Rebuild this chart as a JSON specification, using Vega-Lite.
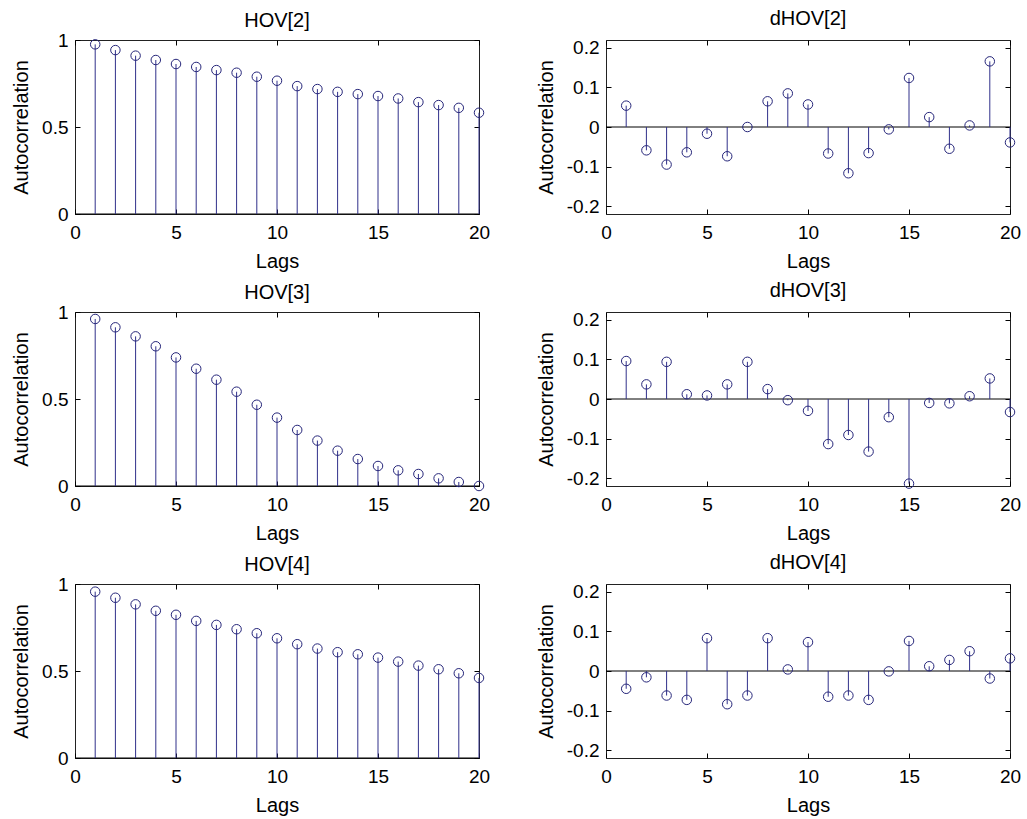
{
  "$schema": "https://vega.github.io/schema/vega-lite/v6.json",
  "background": "white",
  "padding": {"left": 11, "top": 8, "right": 10, "bottom": 4},
  "config": {
    "font": "Liberation Sans",
    "view": {"stroke": "#222", "strokeWidth": 1},
    "axis": {"labelFont": "Liberation Sans", "titleFont": "Liberation Sans", "labelFontSize": 19, "titleFontSize": 20, "titleFontWeight": "normal", "labelColor": "#000", "titleColor": "#000", "tickColor": "#000", "grid": false, "labelFlush": false, "domain": false, "tickSize": -5},
    "title": {"font": "Liberation Sans", "fontSize": 20, "fontWeight": "normal", "color": "#000", "offset": 10, "frame": "group"}
  },
  "datasets": {
    "acf": [
      {"panel": "HOV[2]", "lag": 1, "r": 0.975}, {"panel": "HOV[2]", "lag": 2, "r": 0.942}, {"panel": "HOV[2]", "lag": 3, "r": 0.910}, {"panel": "HOV[2]", "lag": 4, "r": 0.885}, {"panel": "HOV[2]", "lag": 5, "r": 0.862},
      {"panel": "HOV[2]", "lag": 6, "r": 0.845}, {"panel": "HOV[2]", "lag": 7, "r": 0.827}, {"panel": "HOV[2]", "lag": 8, "r": 0.812}, {"panel": "HOV[2]", "lag": 9, "r": 0.789}, {"panel": "HOV[2]", "lag": 10, "r": 0.766},
      {"panel": "HOV[2]", "lag": 11, "r": 0.735}, {"panel": "HOV[2]", "lag": 12, "r": 0.718}, {"panel": "HOV[2]", "lag": 13, "r": 0.702}, {"panel": "HOV[2]", "lag": 14, "r": 0.689}, {"panel": "HOV[2]", "lag": 15, "r": 0.678},
      {"panel": "HOV[2]", "lag": 16, "r": 0.664}, {"panel": "HOV[2]", "lag": 17, "r": 0.643}, {"panel": "HOV[2]", "lag": 18, "r": 0.626}, {"panel": "HOV[2]", "lag": 19, "r": 0.610}, {"panel": "HOV[2]", "lag": 20, "r": 0.582},
      {"panel": "dHOV[2]", "lag": 1, "r": 0.054}, {"panel": "dHOV[2]", "lag": 2, "r": -0.059}, {"panel": "dHOV[2]", "lag": 3, "r": -0.095}, {"panel": "dHOV[2]", "lag": 4, "r": -0.064}, {"panel": "dHOV[2]", "lag": 5, "r": -0.017},
      {"panel": "dHOV[2]", "lag": 6, "r": -0.074}, {"panel": "dHOV[2]", "lag": 7, "r": 0.000}, {"panel": "dHOV[2]", "lag": 8, "r": 0.065}, {"panel": "dHOV[2]", "lag": 9, "r": 0.085}, {"panel": "dHOV[2]", "lag": 10, "r": 0.057},
      {"panel": "dHOV[2]", "lag": 11, "r": -0.067}, {"panel": "dHOV[2]", "lag": 12, "r": -0.117}, {"panel": "dHOV[2]", "lag": 13, "r": -0.066}, {"panel": "dHOV[2]", "lag": 14, "r": -0.006}, {"panel": "dHOV[2]", "lag": 15, "r": 0.124},
      {"panel": "dHOV[2]", "lag": 16, "r": 0.025}, {"panel": "dHOV[2]", "lag": 17, "r": -0.055}, {"panel": "dHOV[2]", "lag": 18, "r": 0.004}, {"panel": "dHOV[2]", "lag": 19, "r": 0.166}, {"panel": "dHOV[2]", "lag": 20, "r": -0.039},
      {"panel": "HOV[3]", "lag": 1, "r": 0.960}, {"panel": "HOV[3]", "lag": 2, "r": 0.912}, {"panel": "HOV[3]", "lag": 3, "r": 0.860}, {"panel": "HOV[3]", "lag": 4, "r": 0.803}, {"panel": "HOV[3]", "lag": 5, "r": 0.739},
      {"panel": "HOV[3]", "lag": 6, "r": 0.674}, {"panel": "HOV[3]", "lag": 7, "r": 0.611}, {"panel": "HOV[3]", "lag": 8, "r": 0.542}, {"panel": "HOV[3]", "lag": 9, "r": 0.467}, {"panel": "HOV[3]", "lag": 10, "r": 0.393},
      {"panel": "HOV[3]", "lag": 11, "r": 0.322}, {"panel": "HOV[3]", "lag": 12, "r": 0.261}, {"panel": "HOV[3]", "lag": 13, "r": 0.203}, {"panel": "HOV[3]", "lag": 14, "r": 0.155}, {"panel": "HOV[3]", "lag": 15, "r": 0.115},
      {"panel": "HOV[3]", "lag": 16, "r": 0.090}, {"panel": "HOV[3]", "lag": 17, "r": 0.069}, {"panel": "HOV[3]", "lag": 18, "r": 0.044}, {"panel": "HOV[3]", "lag": 19, "r": 0.023}, {"panel": "HOV[3]", "lag": 20, "r": 0.000},
      {"panel": "dHOV[3]", "lag": 1, "r": 0.096}, {"panel": "dHOV[3]", "lag": 2, "r": 0.037}, {"panel": "dHOV[3]", "lag": 3, "r": 0.094}, {"panel": "dHOV[3]", "lag": 4, "r": 0.012}, {"panel": "dHOV[3]", "lag": 5, "r": 0.009},
      {"panel": "dHOV[3]", "lag": 6, "r": 0.037}, {"panel": "dHOV[3]", "lag": 7, "r": 0.094}, {"panel": "dHOV[3]", "lag": 8, "r": 0.025}, {"panel": "dHOV[3]", "lag": 9, "r": -0.003}, {"panel": "dHOV[3]", "lag": 10, "r": -0.030},
      {"panel": "dHOV[3]", "lag": 11, "r": -0.114}, {"panel": "dHOV[3]", "lag": 12, "r": -0.091}, {"panel": "dHOV[3]", "lag": 13, "r": -0.133}, {"panel": "dHOV[3]", "lag": 14, "r": -0.046}, {"panel": "dHOV[3]", "lag": 15, "r": -0.214},
      {"panel": "dHOV[3]", "lag": 16, "r": -0.010}, {"panel": "dHOV[3]", "lag": 17, "r": -0.011}, {"panel": "dHOV[3]", "lag": 18, "r": 0.007}, {"panel": "dHOV[3]", "lag": 19, "r": 0.052}, {"panel": "dHOV[3]", "lag": 20, "r": -0.033},
      {"panel": "HOV[4]", "lag": 1, "r": 0.956}, {"panel": "HOV[4]", "lag": 2, "r": 0.921}, {"panel": "HOV[4]", "lag": 3, "r": 0.883}, {"panel": "HOV[4]", "lag": 4, "r": 0.846}, {"panel": "HOV[4]", "lag": 5, "r": 0.823},
      {"panel": "HOV[4]", "lag": 6, "r": 0.788}, {"panel": "HOV[4]", "lag": 7, "r": 0.765}, {"panel": "HOV[4]", "lag": 8, "r": 0.740}, {"panel": "HOV[4]", "lag": 9, "r": 0.717}, {"panel": "HOV[4]", "lag": 10, "r": 0.688},
      {"panel": "HOV[4]", "lag": 11, "r": 0.654}, {"panel": "HOV[4]", "lag": 12, "r": 0.629}, {"panel": "HOV[4]", "lag": 13, "r": 0.608}, {"panel": "HOV[4]", "lag": 14, "r": 0.596}, {"panel": "HOV[4]", "lag": 15, "r": 0.577},
      {"panel": "HOV[4]", "lag": 16, "r": 0.554}, {"panel": "HOV[4]", "lag": 17, "r": 0.531}, {"panel": "HOV[4]", "lag": 18, "r": 0.510}, {"panel": "HOV[4]", "lag": 19, "r": 0.487}, {"panel": "HOV[4]", "lag": 20, "r": 0.460},
      {"panel": "dHOV[4]", "lag": 1, "r": -0.045}, {"panel": "dHOV[4]", "lag": 2, "r": -0.016}, {"panel": "dHOV[4]", "lag": 3, "r": -0.062}, {"panel": "dHOV[4]", "lag": 4, "r": -0.073}, {"panel": "dHOV[4]", "lag": 5, "r": 0.083},
      {"panel": "dHOV[4]", "lag": 6, "r": -0.084}, {"panel": "dHOV[4]", "lag": 7, "r": -0.062}, {"panel": "dHOV[4]", "lag": 8, "r": 0.083}, {"panel": "dHOV[4]", "lag": 9, "r": 0.004}, {"panel": "dHOV[4]", "lag": 10, "r": 0.073},
      {"panel": "dHOV[4]", "lag": 11, "r": -0.065}, {"panel": "dHOV[4]", "lag": 12, "r": -0.062}, {"panel": "dHOV[4]", "lag": 13, "r": -0.073}, {"panel": "dHOV[4]", "lag": 14, "r": -0.001}, {"panel": "dHOV[4]", "lag": 15, "r": 0.076},
      {"panel": "dHOV[4]", "lag": 16, "r": 0.012}, {"panel": "dHOV[4]", "lag": 17, "r": 0.028}, {"panel": "dHOV[4]", "lag": 18, "r": 0.050}, {"panel": "dHOV[4]", "lag": 19, "r": -0.019}, {"panel": "dHOV[4]", "lag": 20, "r": 0.032}
    ]
  },
  "columns": 2,
  "spacing": {"row": 98, "column": 127},
  "bounds": "flush",
  "concat": [
    {
      "width": 404, "height": 174, "title": {"text": "HOV[2]", "offset": 0},
      "resolve": {"axis": {"x": "independent", "y": "independent"}},
      "layer": [
        {"data": {"values": [{}]}, "mark": {"type": "rule", "color": "#000", "strokeWidth": 1}, "encoding": {"y": {"datum": 0, "type": "quantitative", "scale": {"domain": [0, 1], "nice": false, "zero": false}, "axis": null}}},
        {"data": {"name": "acf"}, "transform": [{"filter": "datum.panel === 'HOV[2]'"}], "mark": {"type": "rule", "color": "#30308a", "strokeWidth": 1},
         "encoding": {"x": {"field": "lag", "type": "quantitative", "scale": {"domain": [0, 20], "nice": false, "zero": false}, "axis": {"orient": "bottom", "values": [0, 5, 10, 15, 20], "title": "Lags", "labelPadding": 14, "titlePadding": 9}},
                      "y": {"field": "r", "type": "quantitative", "scale": {"domain": [0, 1], "nice": false, "zero": false}, "axis": {"orient": "left", "values": [0, 0.5, 1], "labelExpr": "'' + datum.value", "title": "Autocorrelation", "labelPadding": 12, "titlePadding": 10}},
                      "y2": {"datum": 0}}},
        {"data": {"name": "acf"}, "transform": [{"filter": "datum.panel === 'HOV[2]'"}], "mark": {"type": "point", "shape": "circle", "filled": false, "size": 90, "color": "#26267a", "strokeWidth": 1, "opacity": 1},
         "encoding": {"x": {"field": "lag", "type": "quantitative", "scale": {"domain": [0, 20], "nice": false, "zero": false}, "axis": null}, "y": {"field": "r", "type": "quantitative", "scale": {"domain": [0, 1], "nice": false, "zero": false}, "axis": null}}},
        {"data": {"name": "acf"}, "transform": [{"filter": "datum.panel === 'HOV[2]'"}], "mark": {"type": "point", "opacity": 0},
         "encoding": {"x": {"field": "lag", "type": "quantitative", "scale": {"domain": [0, 20], "nice": false, "zero": false}, "axis": {"orient": "top", "values": [0, 5, 10, 15, 20], "labels": false, "title": null}},
                      "y": {"field": "r", "type": "quantitative", "scale": {"domain": [0, 1], "nice": false, "zero": false}, "axis": {"orient": "right", "values": [0, 0.5, 1], "labels": false, "title": null}}}}
      ]
    },
    {
      "width": 404, "height": 174, "title": {"text": "dHOV[2]", "offset": 10},
      "resolve": {"axis": {"x": "independent", "y": "independent"}},
      "layer": [
        {"data": {"values": [{}]}, "mark": {"type": "rule", "color": "#000", "strokeWidth": 1}, "encoding": {"y": {"datum": 0, "type": "quantitative", "scale": {"domain": [-0.22, 0.22], "nice": false, "zero": false}, "axis": null}}},
        {"data": {"name": "acf"}, "transform": [{"filter": "datum.panel === 'dHOV[2]'"}], "mark": {"type": "rule", "color": "#30308a", "strokeWidth": 1},
         "encoding": {"x": {"field": "lag", "type": "quantitative", "scale": {"domain": [0, 20], "nice": false, "zero": false}, "axis": {"orient": "bottom", "values": [0, 5, 10, 15, 20], "title": "Lags", "labelPadding": 14, "titlePadding": 9}},
                      "y": {"field": "r", "type": "quantitative", "scale": {"domain": [-0.22, 0.22], "nice": false, "zero": false}, "axis": {"orient": "left", "values": [-0.2, -0.1, 0, 0.1, 0.2], "labelExpr": "'' + datum.value", "title": "Autocorrelation", "labelPadding": 12, "titlePadding": 10}},
                      "y2": {"datum": 0}}},
        {"data": {"name": "acf"}, "transform": [{"filter": "datum.panel === 'dHOV[2]'"}], "mark": {"type": "point", "shape": "circle", "filled": false, "size": 90, "color": "#26267a", "strokeWidth": 1, "opacity": 1},
         "encoding": {"x": {"field": "lag", "type": "quantitative", "scale": {"domain": [0, 20], "nice": false, "zero": false}, "axis": null}, "y": {"field": "r", "type": "quantitative", "scale": {"domain": [-0.22, 0.22], "nice": false, "zero": false}, "axis": null}}},
        {"data": {"name": "acf"}, "transform": [{"filter": "datum.panel === 'dHOV[2]'"}], "mark": {"type": "point", "opacity": 0},
         "encoding": {"x": {"field": "lag", "type": "quantitative", "scale": {"domain": [0, 20], "nice": false, "zero": false}, "axis": {"orient": "top", "values": [0, 5, 10, 15, 20], "labels": false, "title": null}},
                      "y": {"field": "r", "type": "quantitative", "scale": {"domain": [-0.22, 0.22], "nice": false, "zero": false}, "axis": {"orient": "right", "values": [-0.2, -0.1, 0, 0.1, 0.2], "labels": false, "title": null}}}}
      ]
    },
    {
      "width": 404, "height": 174, "title": {"text": "HOV[3]", "offset": 0},
      "resolve": {"axis": {"x": "independent", "y": "independent"}},
      "layer": [
        {"data": {"values": [{}]}, "mark": {"type": "rule", "color": "#000", "strokeWidth": 1}, "encoding": {"y": {"datum": 0, "type": "quantitative", "scale": {"domain": [0, 1], "nice": false, "zero": false}, "axis": null}}},
        {"data": {"name": "acf"}, "transform": [{"filter": "datum.panel === 'HOV[3]'"}], "mark": {"type": "rule", "color": "#30308a", "strokeWidth": 1},
         "encoding": {"x": {"field": "lag", "type": "quantitative", "scale": {"domain": [0, 20], "nice": false, "zero": false}, "axis": {"orient": "bottom", "values": [0, 5, 10, 15, 20], "title": "Lags", "labelPadding": 14, "titlePadding": 9}},
                      "y": {"field": "r", "type": "quantitative", "scale": {"domain": [0, 1], "nice": false, "zero": false}, "axis": {"orient": "left", "values": [0, 0.5, 1], "labelExpr": "'' + datum.value", "title": "Autocorrelation", "labelPadding": 12, "titlePadding": 10}},
                      "y2": {"datum": 0}}},
        {"data": {"name": "acf"}, "transform": [{"filter": "datum.panel === 'HOV[3]'"}], "mark": {"type": "point", "shape": "circle", "filled": false, "size": 90, "color": "#26267a", "strokeWidth": 1, "opacity": 1},
         "encoding": {"x": {"field": "lag", "type": "quantitative", "scale": {"domain": [0, 20], "nice": false, "zero": false}, "axis": null}, "y": {"field": "r", "type": "quantitative", "scale": {"domain": [0, 1], "nice": false, "zero": false}, "axis": null}}},
        {"data": {"name": "acf"}, "transform": [{"filter": "datum.panel === 'HOV[3]'"}], "mark": {"type": "point", "opacity": 0},
         "encoding": {"x": {"field": "lag", "type": "quantitative", "scale": {"domain": [0, 20], "nice": false, "zero": false}, "axis": {"orient": "top", "values": [0, 5, 10, 15, 20], "labels": false, "title": null}},
                      "y": {"field": "r", "type": "quantitative", "scale": {"domain": [0, 1], "nice": false, "zero": false}, "axis": {"orient": "right", "values": [0, 0.5, 1], "labels": false, "title": null}}}}
      ]
    },
    {
      "width": 404, "height": 174, "title": {"text": "dHOV[3]", "offset": 10},
      "resolve": {"axis": {"x": "independent", "y": "independent"}},
      "layer": [
        {"data": {"values": [{}]}, "mark": {"type": "rule", "color": "#000", "strokeWidth": 1}, "encoding": {"y": {"datum": 0, "type": "quantitative", "scale": {"domain": [-0.22, 0.22], "nice": false, "zero": false}, "axis": null}}},
        {"data": {"name": "acf"}, "transform": [{"filter": "datum.panel === 'dHOV[3]'"}], "mark": {"type": "rule", "color": "#30308a", "strokeWidth": 1},
         "encoding": {"x": {"field": "lag", "type": "quantitative", "scale": {"domain": [0, 20], "nice": false, "zero": false}, "axis": {"orient": "bottom", "values": [0, 5, 10, 15, 20], "title": "Lags", "labelPadding": 14, "titlePadding": 9}},
                      "y": {"field": "r", "type": "quantitative", "scale": {"domain": [-0.22, 0.22], "nice": false, "zero": false}, "axis": {"orient": "left", "values": [-0.2, -0.1, 0, 0.1, 0.2], "labelExpr": "'' + datum.value", "title": "Autocorrelation", "labelPadding": 12, "titlePadding": 10}},
                      "y2": {"datum": 0}}},
        {"data": {"name": "acf"}, "transform": [{"filter": "datum.panel === 'dHOV[3]'"}], "mark": {"type": "point", "shape": "circle", "filled": false, "size": 90, "color": "#26267a", "strokeWidth": 1, "opacity": 1},
         "encoding": {"x": {"field": "lag", "type": "quantitative", "scale": {"domain": [0, 20], "nice": false, "zero": false}, "axis": null}, "y": {"field": "r", "type": "quantitative", "scale": {"domain": [-0.22, 0.22], "nice": false, "zero": false}, "axis": null}}},
        {"data": {"name": "acf"}, "transform": [{"filter": "datum.panel === 'dHOV[3]'"}], "mark": {"type": "point", "opacity": 0},
         "encoding": {"x": {"field": "lag", "type": "quantitative", "scale": {"domain": [0, 20], "nice": false, "zero": false}, "axis": {"orient": "top", "values": [0, 5, 10, 15, 20], "labels": false, "title": null}},
                      "y": {"field": "r", "type": "quantitative", "scale": {"domain": [-0.22, 0.22], "nice": false, "zero": false}, "axis": {"orient": "right", "values": [-0.2, -0.1, 0, 0.1, 0.2], "labels": false, "title": null}}}}
      ]
    },
    {
      "width": 404, "height": 174, "title": {"text": "HOV[4]", "offset": 0},
      "resolve": {"axis": {"x": "independent", "y": "independent"}},
      "layer": [
        {"data": {"values": [{}]}, "mark": {"type": "rule", "color": "#000", "strokeWidth": 1}, "encoding": {"y": {"datum": 0, "type": "quantitative", "scale": {"domain": [0, 1], "nice": false, "zero": false}, "axis": null}}},
        {"data": {"name": "acf"}, "transform": [{"filter": "datum.panel === 'HOV[4]'"}], "mark": {"type": "rule", "color": "#30308a", "strokeWidth": 1},
         "encoding": {"x": {"field": "lag", "type": "quantitative", "scale": {"domain": [0, 20], "nice": false, "zero": false}, "axis": {"orient": "bottom", "values": [0, 5, 10, 15, 20], "title": "Lags", "labelPadding": 14, "titlePadding": 9}},
                      "y": {"field": "r", "type": "quantitative", "scale": {"domain": [0, 1], "nice": false, "zero": false}, "axis": {"orient": "left", "values": [0, 0.5, 1], "labelExpr": "'' + datum.value", "title": "Autocorrelation", "labelPadding": 12, "titlePadding": 10}},
                      "y2": {"datum": 0}}},
        {"data": {"name": "acf"}, "transform": [{"filter": "datum.panel === 'HOV[4]'"}], "mark": {"type": "point", "shape": "circle", "filled": false, "size": 90, "color": "#26267a", "strokeWidth": 1, "opacity": 1},
         "encoding": {"x": {"field": "lag", "type": "quantitative", "scale": {"domain": [0, 20], "nice": false, "zero": false}, "axis": null}, "y": {"field": "r", "type": "quantitative", "scale": {"domain": [0, 1], "nice": false, "zero": false}, "axis": null}}},
        {"data": {"name": "acf"}, "transform": [{"filter": "datum.panel === 'HOV[4]'"}], "mark": {"type": "point", "opacity": 0},
         "encoding": {"x": {"field": "lag", "type": "quantitative", "scale": {"domain": [0, 20], "nice": false, "zero": false}, "axis": {"orient": "top", "values": [0, 5, 10, 15, 20], "labels": false, "title": null}},
                      "y": {"field": "r", "type": "quantitative", "scale": {"domain": [0, 1], "nice": false, "zero": false}, "axis": {"orient": "right", "values": [0, 0.5, 1], "labels": false, "title": null}}}}
      ]
    },
    {
      "width": 404, "height": 174, "title": {"text": "dHOV[4]", "offset": 10},
      "resolve": {"axis": {"x": "independent", "y": "independent"}},
      "layer": [
        {"data": {"values": [{}]}, "mark": {"type": "rule", "color": "#000", "strokeWidth": 1}, "encoding": {"y": {"datum": 0, "type": "quantitative", "scale": {"domain": [-0.22, 0.22], "nice": false, "zero": false}, "axis": null}}},
        {"data": {"name": "acf"}, "transform": [{"filter": "datum.panel === 'dHOV[4]'"}], "mark": {"type": "rule", "color": "#30308a", "strokeWidth": 1},
         "encoding": {"x": {"field": "lag", "type": "quantitative", "scale": {"domain": [0, 20], "nice": false, "zero": false}, "axis": {"orient": "bottom", "values": [0, 5, 10, 15, 20], "title": "Lags", "labelPadding": 14, "titlePadding": 9}},
                      "y": {"field": "r", "type": "quantitative", "scale": {"domain": [-0.22, 0.22], "nice": false, "zero": false}, "axis": {"orient": "left", "values": [-0.2, -0.1, 0, 0.1, 0.2], "labelExpr": "'' + datum.value", "title": "Autocorrelation", "labelPadding": 12, "titlePadding": 10}},
                      "y2": {"datum": 0}}},
        {"data": {"name": "acf"}, "transform": [{"filter": "datum.panel === 'dHOV[4]'"}], "mark": {"type": "point", "shape": "circle", "filled": false, "size": 90, "color": "#26267a", "strokeWidth": 1, "opacity": 1},
         "encoding": {"x": {"field": "lag", "type": "quantitative", "scale": {"domain": [0, 20], "nice": false, "zero": false}, "axis": null}, "y": {"field": "r", "type": "quantitative", "scale": {"domain": [-0.22, 0.22], "nice": false, "zero": false}, "axis": null}}},
        {"data": {"name": "acf"}, "transform": [{"filter": "datum.panel === 'dHOV[4]'"}], "mark": {"type": "point", "opacity": 0},
         "encoding": {"x": {"field": "lag", "type": "quantitative", "scale": {"domain": [0, 20], "nice": false, "zero": false}, "axis": {"orient": "top", "values": [0, 5, 10, 15, 20], "labels": false, "title": null}},
                      "y": {"field": "r", "type": "quantitative", "scale": {"domain": [-0.22, 0.22], "nice": false, "zero": false}, "axis": {"orient": "right", "values": [-0.2, -0.1, 0, 0.1, 0.2], "labels": false, "title": null}}}}
      ]
    }
  ]
}
